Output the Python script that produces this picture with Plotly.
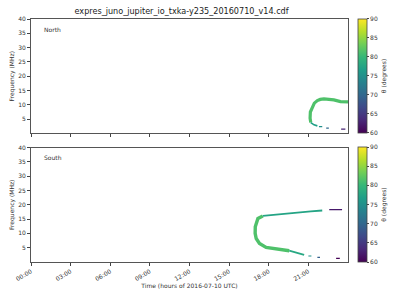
import plotly.graph_objects as go
from plotly.subplots import make_subplots
from plotly.colors import sample_colorscale

# ---- data (time in hours of 2016-07-10, frequency in MHz, theta in degrees) ----
tick_hours = [0, 3, 6, 9, 12, 15, 18, 21]
tick_labels = ["00:00", "03:00", "06:00", "09:00", "12:00", "15:00", "18:00", "21:00"]
freq_ticks = [5, 10, 15, 20, 25, 30, 35, 40]
cbar_ticks = [60, 65, 70, 75, 80, 85, 90]

# North hemisphere segments
north_main_t = [21.18, 21.13, 21.15, 21.3, 21.45, 21.68, 21.9, 22.18, 22.5, 22.93, 23.43, 24.0]
north_main_f = [3.8, 5.35, 7.5, 9.4, 10.6, 11.5, 11.9, 12.1, 12.0, 11.75, 11.15, 11.05]
north_main_theta = 81.5
north_tail_t = [21.18, 21.43, 21.68]
north_tail_f = [3.8, 3.0, 2.65]
north_tail_theta = 77
north_d1_t = [21.8, 22.05]
north_d1_f = [2.4, 2.4]
north_d1_theta = 75
north_d2_t = [22.35, 22.55]
north_d2_f = [1.85, 1.85]
north_d2_theta = 70
north_d3_t = [23.48, 23.8]
north_d3_f = [1.5, 1.5]
north_d3_theta = 63

# South hemisphere segments
south_main_t = [17.55, 17.18, 16.98, 16.97, 17.05, 17.3, 17.8, 18.68, 19.55]
south_main_f = [16.1, 15.2, 12.3, 10.0, 8.2, 6.5, 5.1, 4.4, 3.95]
south_main_theta = 81.5
south_up_t = [17.55, 18.18, 19.18, 20.18, 21.18, 22.05]
south_up_f = [16.1, 16.4, 16.9, 17.25, 17.7, 18.0]
south_up_theta = 77.5
south_low_t = [19.55, 20.18, 20.68]
south_low_f = [3.95, 3.25, 2.45]
south_low_theta = 78
south_d1_t = [21.0, 21.23]
south_d1_f = [2.1, 2.1]
south_d1_theta = 75
south_d2_t = [21.68, 21.88]
south_d2_f = [1.65, 1.65]
south_d2_theta = 69
south_d3_t = [23.1, 23.38]
south_d3_f = [1.3, 1.3]
south_d3_theta = 60
south_d4_t = [22.58, 23.55]
south_d4_f = [18.3, 18.3]
south_d4_theta = 62

TMIN, TMAX = 60, 90


def col(theta):
    return sample_colorscale("Viridis", [(theta - TMIN) / (TMAX - TMIN)])[0]


fig = make_subplots(rows=2, cols=1, shared_xaxes=True, vertical_spacing=0.058)

north = [
    (north_main_t, north_main_f, north_main_theta, 3.2),
    (north_tail_t, north_tail_f, north_tail_theta, 1.6),
    (north_d1_t, north_d1_f, north_d1_theta, 1.2),
    (north_d2_t, north_d2_f, north_d2_theta, 1.2),
    (north_d3_t, north_d3_f, north_d3_theta, 1.2),
]
south = [
    (south_main_t, south_main_f, south_main_theta, 3.4),
    (south_up_t, south_up_f, south_up_theta, 1.8),
    (south_low_t, south_low_f, south_low_theta, 1.8),
    (south_d1_t, south_d1_f, south_d1_theta, 1.2),
    (south_d2_t, south_d2_f, south_d2_theta, 1.2),
    (south_d3_t, south_d3_f, south_d3_theta, 1.2),
    (south_d4_t, south_d4_f, south_d4_theta, 1.2),
]

for row, segs in ((1, north), (2, south)):
    for t, f, th, w in segs:
        fig.add_trace(go.Scatter(x=t, y=f, mode="lines",
                                 line=dict(color=col(th), width=w),
                                 showlegend=False, hoverinfo="skip"),
                      row=row, col=1)

font_small = dict(family="DejaVu Sans", size=6, color="#333")

# colorbars via dummy traces
for row, (ybot, ylen) in ((1, (0.531, 0.469)), (2, (0.0, 0.473))):
    fig.add_trace(go.Scatter(
        x=[None], y=[None], mode="markers", showlegend=False, hoverinfo="skip",
        marker=dict(color=[TMIN, TMAX], colorscale="Viridis", cmin=TMIN, cmax=TMAX,
                    showscale=True,
                    colorbar=dict(x=1.031, xanchor="left", y=ybot, yanchor="bottom",
                                  len=ylen, lenmode="fraction", thickness=9,
                                  outlinewidth=0.8, outlinecolor="#444",
                                  tickvals=cbar_ticks, ticks="outside", ticklen=2,
                                  tickwidth=0.6, tickcolor="#444",
                                  tickfont=font_small, xpad=0, ypad=0,
                                  title=dict(text="θ (degrees)", side="right",
                                             font=font_small)))),
        row=row, col=1)

axis_common = dict(showgrid=False, zeroline=False, showline=True, mirror=True,
                   linecolor="#555", linewidth=0.8, ticks="outside", ticklen=3,
                   tickwidth=0.6, tickcolor="#444", tickfont=font_small)

fig.update_xaxes(range=[0, 24], tickvals=tick_hours, ticktext=tick_labels,
                 **axis_common)
fig.update_xaxes(showticklabels=False, row=1, col=1)
fig.update_xaxes(tickangle=-30, row=2, col=1,
                 title=dict(text="Time (hours of 2016-07-10 UTC)", font=font_small,
                            standoff=2))
fig.update_yaxes(range=[0, 40], tickvals=freq_ticks, **axis_common,
                 title=dict(text="Frequency (MHz)", font=font_small, standoff=3))

fig.add_annotation(text="North", xref="x domain", yref="y domain", x=0.036, y=0.91,
                   showarrow=False, xanchor="left", yanchor="middle", font=font_small)
fig.add_annotation(text="South", xref="x2 domain", yref="y2 domain", x=0.036, y=0.91,
                   showarrow=False, xanchor="left", yanchor="middle", font=font_small)

fig.update_layout(
    width=400, height=300,
    margin=dict(l=31, r=50, t=19, b=38),
    paper_bgcolor="white", plot_bgcolor="white",
    title=dict(text="expres_juno_jupiter_io_txka-y235_20160710_v14.cdf",
               x=0.475, xanchor="center", xref="paper", y=0.963, yanchor="middle",
               yref="container",
               font=dict(family="DejaVu Sans", size=8.1, color="#222")),
)

fig.write_html("out.html")
